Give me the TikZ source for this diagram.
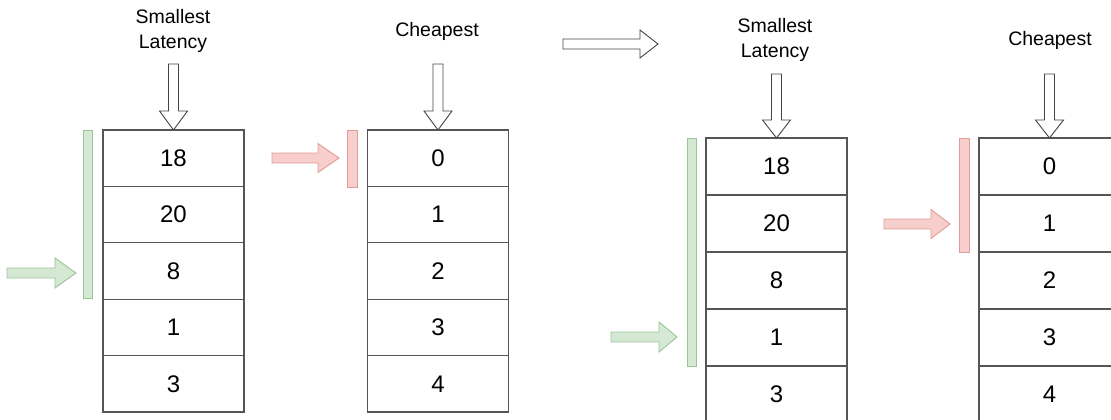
\documentclass[tikz,border=0pt]{standalone}
\usepackage{fontspec}
\setmainfont{Liberation Sans}
\usetikzlibrary{calc}

\definecolor{gfill}{HTML}{D5E8D4}
\definecolor{gline}{HTML}{9CC496}
\definecolor{rfill}{HTML}{F8CECC}
\definecolor{rline}{HTML}{DE9C9A}
\definecolor{cellline}{HTML}{555555}
\definecolor{arrowline}{HTML}{444444}

\tikzset{
  cell/.style={draw=cellline, line width=1.2pt, minimum width=141pt,
    minimum height=#1, inner sep=0pt, outer sep=0pt, anchor=north,
    font=\fontsize{24}{28}\selectfont},
  heading/.style={align=center, inner sep=0pt,
    font=\fontsize{19.5}{25}\selectfont},
  hollow/.style={draw=arrowline, fill=white, line width=0.9pt, line join=miter},
  greenarrow/.style={draw=gline, fill=gfill, line width=0.9pt},
  redarrow/.style={draw=rline, fill=rfill, line width=0.9pt},
  greenbar/.style={draw=gline, fill=gfill, line width=0.9pt},
  redbar/.style={draw=rline, fill=rfill, line width=0.9pt},
}

% block arrow pointing right: style, x start, x head start, x tip, y, shaft half, head half
\newcommand\rightblock[7]{%
  \draw[#1] (#2,#5-#6) -- (#3,#5-#6) -- (#3,#5-#7) -- (#4,#5)
    -- (#3,#5+#7) -- (#3,#5+#6) -- (#2,#5+#6) -- cycle;}
% block arrow pointing down: style, x, y start, y head start, tip coordinate, shaft half, head half
\newcommand\downblock[7]{%
  \draw[#1] (#2-#6,#3) -- (#2-#6,#4) -- (#2-#7,#4) -- (#5)
    -- (#2+#7,#4) -- (#2+#6,#4) -- (#2+#6,#3) -- cycle;}

\begin{document}
\begin{tikzpicture}[x=1pt, y=-1pt]
  \useasboundingbox (0,0) rectangle (1111,420);
  \clip (0,0) rectangle (1111,420);

  % ---- before: latency queue and cost queue ----
  \node[cell=56.4pt] (la1) at (173.5,130) {18};
  \node[cell=56.4pt] (la2) at (la1.south) {20};
  \node[cell=56.4pt] (la3) at (la2.south) {8};
  \node[cell=56.4pt] (la4) at (la3.south) {1};
  \node[cell=56.4pt] (la5) at (la4.south) {3};

  \node[cell=56.4pt] (ca1) at (438,130) {0};
  \node[cell=56.4pt] (ca2) at (ca1.south) {1};
  \node[cell=56.4pt] (ca3) at (ca2.south) {2};
  \node[cell=56.4pt] (ca4) at (ca3.south) {3};
  \node[cell=56.4pt] (ca5) at (ca4.south) {4};

  \node[heading] (lha) at (173,30.5) {Smallest\\Latency};
  \node[heading] (cha) at (437,31) {Cheapest};

  \downblock{hollow}{173.5}{64}{111}{la1.north}{5}{14}
  \downblock{hollow}{438}{64}{111}{ca1.north}{5}{14}

  \draw[greenbar] (83,130) rectangle (92,298);
  \rightblock{greenarrow}{7}{55}{76}{273}{5}{15}
  \draw[redbar] (347,130) rectangle (357,187);
  \rightblock{redarrow}{272}{318}{339}{158}{5}{14.5}

  % ---- transition ----
  \rightblock{hollow}{563}{640}{658}{44}{5}{14}

  % ---- after: latency queue and cost queue ----
  \node[cell=57pt] (lb1) at (776.5,138) {18};
  \node[cell=57pt] (lb2) at (lb1.south) {20};
  \node[cell=57pt] (lb3) at (lb2.south) {8};
  \node[cell=57pt] (lb4) at (lb3.south) {1};
  \node[cell=57pt] (lb5) at (lb4.south) {3};

  \node[cell=57pt] (cb1) at (1049.5,138) {0};
  \node[cell=57pt] (cb2) at (cb1.south) {1};
  \node[cell=57pt] (cb3) at (cb2.south) {2};
  \node[cell=57pt] (cb4) at (cb3.south) {3};
  \node[cell=57pt] (cb5) at (cb4.south) {4};

  \node[heading] (lhb) at (775,40) {Smallest\\Latency};
  \node[heading] (chb) at (1050,40) {Cheapest};

  \downblock{hollow}{776.5}{74}{120}{lb1.north}{5}{14}
  \downblock{hollow}{1049.5}{74}{120}{cb1.north}{5}{14}

  \draw[greenbar] (687,138) rectangle (696,366);
  \rightblock{greenarrow}{611}{659}{677}{337}{5}{15}
  \draw[redbar] (959,138) rectangle (969,252);
  \rightblock{redarrow}{884}{931}{950}{224}{5}{14.5}
\end{tikzpicture}
\end{document}
